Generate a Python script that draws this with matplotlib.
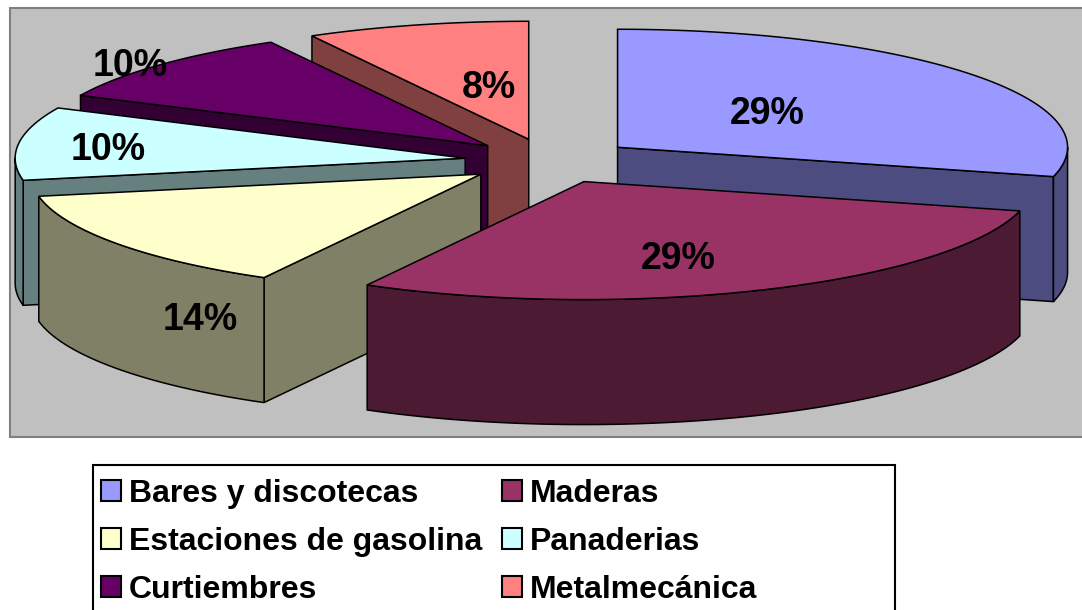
import numpy as np
import matplotlib.pyplot as plt
from matplotlib.patches import Polygon, Rectangle, Patch

plt.rcParams['font.family'] = ['Liberation Sans', 'DejaVu Sans']

categories = ["Bares y discotecas", "Maderas", "Estaciones de gasolina",
              "Panaderias", "Curtiembres", "Metalmecánica"]
values = [29, 29, 14, 10, 10, 8]
top_colors = ["#9999FF", "#993366", "#FFFFCC", "#CCFFFF", "#660066", "#FF8080"]
side_colors = ["#4C4C80", "#4C1A33", "#808066", "#668080", "#330033", "#804040"]

# where each % label sits: fraction along the bisector, drop as fraction of depth
label_pos = [(0.42, -0.02), (0.53, 0.16), (0.77, 0.74), (0.80, 0.03), (1.09, 0.07), (0.36, -0.08)]

W, H = 1082, 610
fig = plt.figure(figsize=(W / 100, H / 100), dpi=100)
ax = fig.add_axes([0, 0, 1, 1])
ax.set_xlim(0, W)
ax.set_ylim(H, 0)
ax.axis('off')

# plot area
ax.add_patch(Rectangle((10, 8), 1100, 429, facecolor='#C0C0C0', edgecolor='#808080', lw=1.5, zorder=0))

# 3d pie geometry (pixel space)
cx, cy = 550, 161
rx, ry = 450, 118
depth = 125
explode = 0.19
lw = 1.1

total = float(sum(values))
bounds = np.concatenate([[0], np.cumsum(values)]) / total * 2 * np.pi
mids = (bounds[:-1] + bounds[1:]) / 2
order = sorted(range(len(values)), key=lambda i: -np.cos(mids[i]))

z = 1
for i in order:
    t1, t2, mid = bounds[i], bounds[i + 1], mids[i]
    ox = cx + explode * rx * np.sin(mid)
    oy = cy - explode * ry * np.cos(mid)

    def pt(t, r=1.0, dz=0.0):
        return (ox + r * rx * np.sin(t), oy - r * ry * np.cos(t) + dz)

    # radial walls facing the viewer
    for t, vis in ((t1, np.sin(t1) < -1e-9), (t2, np.sin(t2) > 1e-9)):
        if vis:
            p0, p1 = pt(t, 0), pt(t)
            wall = [p0, p1, (p1[0], p1[1] + depth), (p0[0], p0[1] + depth)]
            ax.add_patch(Polygon(wall, closed=True, facecolor=side_colors[i],
                                 edgecolor='black', lw=lw, zorder=z))
            z += 1

    # curved outer wall, front half only
    a, b = max(t1, np.pi / 2), min(t2, 3 * np.pi / 2)
    if b > a:
        th = np.linspace(a, b, 120)
        upper = [pt(t) for t in th]
        lower = [pt(t, dz=depth) for t in th[::-1]]
        ax.add_patch(Polygon(upper + lower, closed=True, facecolor=side_colors[i],
                             edgecolor='black', lw=lw, zorder=z))
        z += 1

    # top face
    th = np.linspace(t1, t2, 200)
    top = [pt(t1, 0)] + [pt(t) for t in th]
    ax.add_patch(Polygon(top, closed=True, facecolor=top_colors[i],
                         edgecolor='black', lw=lw, zorder=z))
    z += 1

# percentage labels
for i in range(len(values)):
    mid = mids[i]
    ox = cx + explode * rx * np.sin(mid)
    oy = cy - explode * ry * np.cos(mid)
    f, dz = label_pos[i]
    lx = ox + f * rx * np.sin(mid)
    ly = oy - f * ry * np.cos(mid) + dz * depth
    ax.text(lx, ly, f"{round(values[i] / total * 100):.0f}%", fontsize=27,
            fontweight='bold', ha='center', va='center', zorder=100)

# legend box (runs off the bottom edge like the original)
ax.add_patch(Rectangle((93, 465), 802, 200, facecolor='white', edgecolor='black', lw=1.5, zorder=0))

handles = [Patch(facecolor=top_colors[i], edgecolor='black', lw=1.5) for i in range(len(values))]
idx = [0, 2, 4, 1, 3, 5]
leg = fig.legend([handles[i] for i in idx], [categories[i] for i in idx], ncol=2,
                 loc='upper left', bbox_to_anchor=(101 / W, 1 - 479 / H), frameon=False,
                 prop={'weight': 'bold', 'size': 23}, handlelength=0.63, handleheight=0.63,
                 handletextpad=0.25, columnspacing=0.6, labelspacing=0.56, borderpad=0,
                 borderaxespad=0)

fig.savefig('out.png', dpi=100)
